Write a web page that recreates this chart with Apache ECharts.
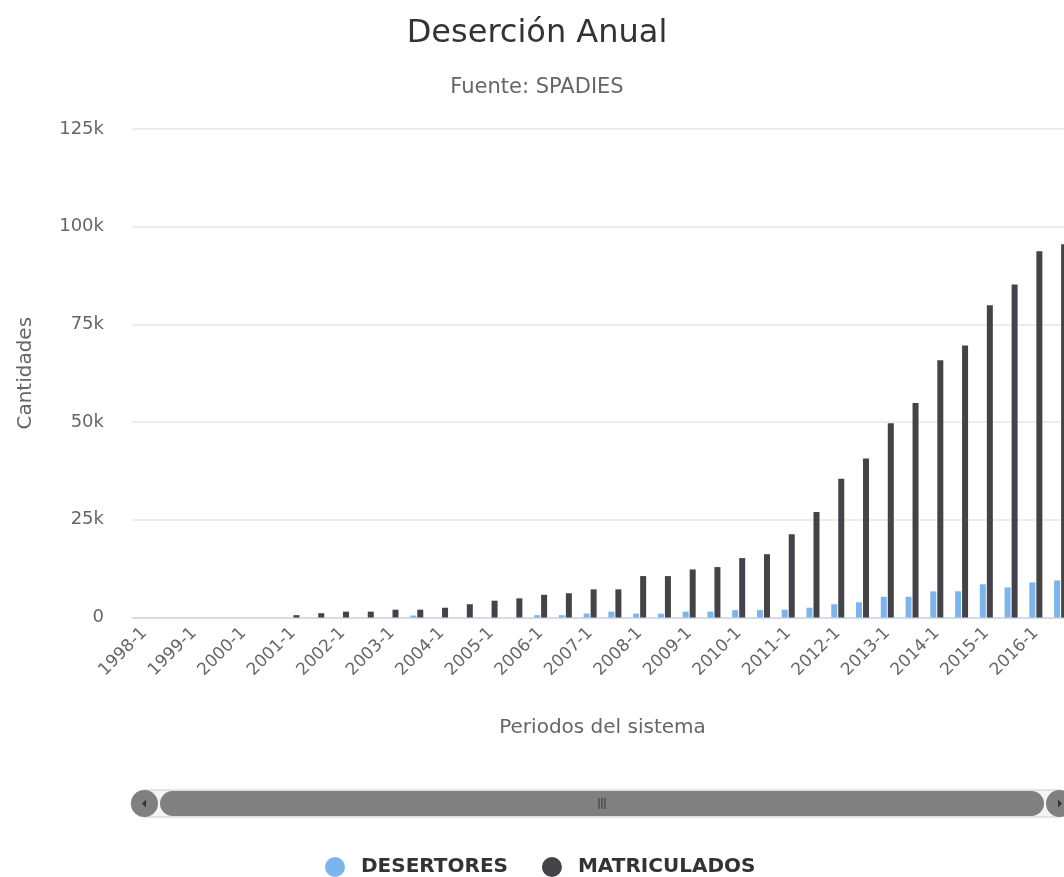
<!DOCTYPE html>
<html>
<head>
<meta charset="utf-8">
<title>Deserción Anual</title>
<script src="https://cdn.jsdelivr.net/npm/echarts@6/dist/echarts.min.js"></script>
<style>
  html, body { margin: 0; padding: 0; overflow: hidden; background: #ffffff; }
  #chart { width: 1090px; height: 877px; }
</style>
</head>
<body>
<div id="chart"></div>
<script>
// Periodos académicos (semestres)
const periodos = [
  '1998-1','1998-2','1999-1','1999-2','2000-1','2000-2','2001-1','2001-2',
  '2002-1','2002-2','2003-1','2003-2','2004-1','2004-2','2005-1','2005-2',
  '2006-1','2006-2','2007-1','2007-2','2008-1','2008-2','2009-1','2009-2',
  '2010-1','2010-2','2011-1','2011-2','2012-1','2012-2','2013-1','2013-2',
  '2014-1','2014-2','2015-1','2015-2','2016-1','2016-2'
];

// Estudiantes desertores por periodo
const desertores = [
  0, 0, 0, 0, 0, 0, 0, 0,
  0, 0, 0, 500, 0, 0, 0, 0,
  600, 600, 1000, 1500, 1000, 1000, 1500, 1500,
  1900, 1900, 2000, 2500, 3400, 3900, 5300, 5300,
  6700, 6700, 8500, 7700, 9000, 9500
];

// Estudiantes matriculados por periodo
const matriculados = [
  0, 0, 0, 0, 0, 0, 600, 1100,
  1500, 1500, 2000, 2000, 2500, 3400, 4300, 4900,
  5800, 6200, 7200, 7200, 10600, 10600, 12300, 12900,
  15200, 16200, 21300, 27000, 35500, 40700, 49700, 54900,
  65800, 69600, 79900, 85200, 93700, 95500
];

// Marcas del eje Y
const yTicks = [0, 25000, 50000, 75000, 100000, 125000];

const FONT = 'DejaVu Sans';
const chart = echarts.init(document.getElementById('chart'), null, { renderer: 'canvas' });

// Barra de desplazamiento (decorativa, muestra el rango completo)
const sbY = 790, sbH = 27, sbL = 131, sbR = 1073;
const scrollbar = [
  { type: 'rect', shape: { x: sbL, y: sbY, width: sbR - sbL, height: sbH, r: sbH / 2 },
    style: { fill: '#f4f4f4', stroke: '#cccccc', lineWidth: 1 }, z: 10 },
  { type: 'rect', shape: { x: sbL + 29, y: sbY + 1, width: sbR - sbL - 58, height: sbH - 2, r: (sbH - 2) / 2 },
    style: { fill: '#808080' }, z: 11 },
  { type: 'circle', shape: { cx: sbL + sbH / 2, cy: sbY + sbH / 2, r: sbH / 2 },
    style: { fill: '#808080' }, z: 11 },
  { type: 'circle', shape: { cx: sbR - sbH / 2, cy: sbY + sbH / 2, r: sbH / 2 },
    style: { fill: '#808080' }, z: 11 },
  { type: 'polygon', shape: { points: [[sbL + 11, sbY + sbH / 2], [sbL + 15, sbY + sbH / 2 - 4], [sbL + 15, sbY + sbH / 2 + 4]] },
    style: { fill: '#333333' }, z: 12 },
  { type: 'polygon', shape: { points: [[sbR - 11, sbY + sbH / 2], [sbR - 15, sbY + sbH / 2 - 4], [sbR - 15, sbY + sbH / 2 + 4]] },
    style: { fill: '#333333' }, z: 12 }
];
const gripX = (sbL + 29 + sbR - 29) / 2;
[-3, 0, 3].forEach(function (dx) {
  scrollbar.push({ type: 'line', shape: { x1: gripX + dx, y1: sbY + 8, x2: gripX + dx, y2: sbY + sbH - 8 },
    style: { stroke: '#333333', lineWidth: 1 }, z: 12 });
});

const option = {
  backgroundColor: '#ffffff',
  animation: false,
  title: [
    { text: 'Deserción Anual', left: 537, textAlign: 'center', top: 15, padding: 0,
      textStyle: { fontFamily: FONT, fontSize: 32, fontWeight: 'normal', color: '#333333', lineHeight: 37 } },
    { text: 'Fuente: SPADIES', left: 537, textAlign: 'center', top: 75, padding: 0,
      textStyle: { fontFamily: FONT, fontSize: 21, fontWeight: 'normal', color: '#666666', lineHeight: 25 } }
  ],
  legend: {
    data: ['DESERTORES', 'MATRICULADOS'],
    left: 320, top: 852,
    icon: 'circle',
    itemWidth: 42, itemHeight: 20, itemGap: 34,
    textStyle: { fontFamily: FONT, fontSize: 20, fontWeight: 'bold', color: '#333333' }
  },
  grid: { left: 132, top: 129, width: 941, height: 488.5, containLabel: false },
  xAxis: {
    type: 'category',
    data: periodos,
    boundaryGap: true,
    name: 'Periodos del sistema',
    nameLocation: 'middle',
    nameGap: 100,
    nameTextStyle: { fontFamily: FONT, fontSize: 20, color: '#666666' },
    axisLine: { lineStyle: { color: '#ccd6eb', width: 1.5 } },
    axisTick: { alignWithLabel: true, interval: 1, length: 15, lineStyle: { color: '#ccd6eb', width: 1.5 } },
    axisLabel: { interval: 1, rotate: 45, margin: 13, fontFamily: FONT, fontSize: 17, color: '#666666' },
    splitLine: { show: false }
  },
  yAxis: {
    type: 'value',
    min: 0, max: yTicks[yTicks.length - 1], interval: yTicks[1] - yTicks[0],
    name: 'Cantidades',
    nameLocation: 'middle',
    nameGap: 96,
    nameTextStyle: { fontFamily: FONT, fontSize: 20, color: '#666666' },
    axisLine: { show: false },
    axisTick: { show: false },
    axisLabel: {
      margin: 28, fontFamily: FONT, fontSize: 18, color: '#666666',
      formatter: function (v) { return v === 0 ? '0' : (v / 1000) + 'k'; }
    },
    splitLine: { lineStyle: { color: '#e6e6e6', width: 1.5 } }
  },
  series: [
    { name: 'DESERTORES', type: 'bar', data: desertores, barWidth: 6, barGap: '17%',
      itemStyle: { color: '#7cb5ec' } },
    { name: 'MATRICULADOS', type: 'bar', data: matriculados, barWidth: 6, barGap: '17%',
      itemStyle: { color: '#434348' } }
  ],
  graphic: scrollbar
};

chart.setOption(option);
</script>
</body>
</html>
